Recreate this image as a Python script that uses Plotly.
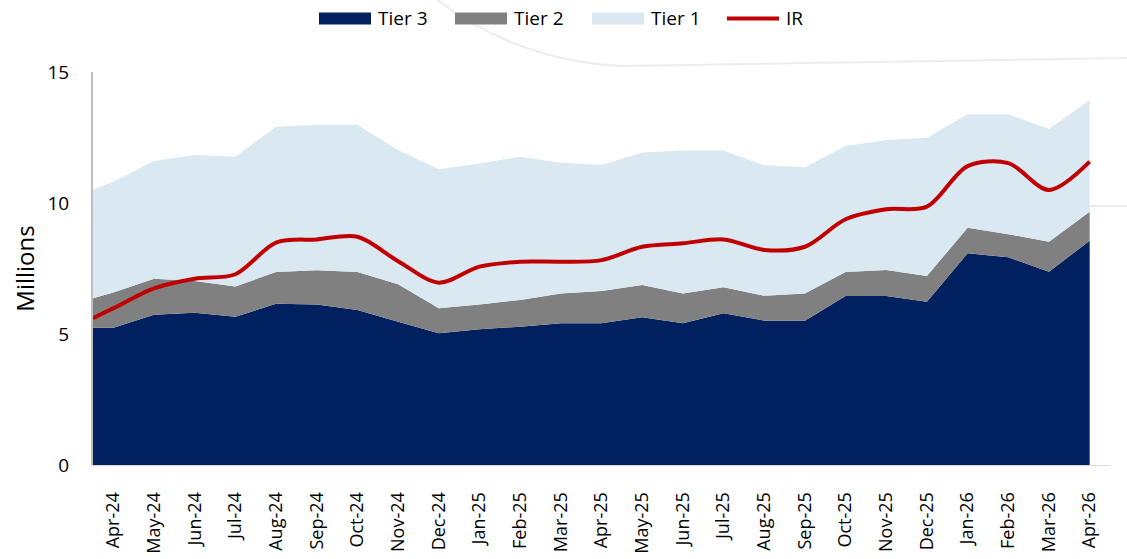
import plotly.graph_objects as go

# ---- data (millions) ----
months = ["Apr-24", "May-24", "Jun-24", "Jul-24", "Aug-24", "Sep-24", "Oct-24", "Nov-24",
          "Dec-24", "Jan-25", "Feb-25", "Mar-25", "Apr-25", "May-25", "Jun-25", "Jul-25",
          "Aug-25", "Sep-25", "Oct-25", "Nov-25", "Dec-25", "Jan-26", "Feb-26", "Mar-26", "Apr-26"]

# first value is the unlabelled opening point half a period before Apr-24
tier3 = [5.24, 5.24, 5.73, 5.81, 5.66, 6.15, 6.13, 5.92, 5.47, 5.03, 5.18, 5.28, 5.41,
         5.41, 5.64, 5.41, 5.79, 5.51, 5.51, 6.45, 6.45, 6.23, 8.08, 7.93, 7.38, 8.56]
tier2 = [1.12, 1.34, 1.38, 1.21, 1.15, 1.22, 1.30, 1.45, 1.43, 0.95, 0.95, 1.02, 1.14,
         1.23, 1.23, 1.14, 0.99, 0.95, 1.04, 0.92, 0.99, 0.98, 0.98, 0.88, 1.14, 1.11]
tier1 = [4.16, 4.23, 4.49, 4.81, 4.96, 5.54, 5.56, 5.62, 5.12, 5.31, 5.38, 5.47, 4.99,
         4.81, 5.06, 5.45, 5.22, 4.98, 4.81, 4.81, 4.96, 5.28, 4.33, 4.58, 4.30, 4.26]
ir = [5.60, 5.98, 6.74, 7.11, 7.28, 8.49, 8.61, 8.71, 7.78, 6.96, 7.57, 7.76, 7.76,
      7.82, 8.33, 8.46, 8.61, 8.21, 8.33, 9.38, 9.76, 9.86, 11.41, 11.52, 10.50, 11.58]

series_names = ["Tier 3", "Tier 2", "Tier 1", "IR"]

# category positions: opening point at -0.5, then one per month
xpos = [-0.5] + list(range(len(months)))

FONT = "'Open Sans', Lato, sans-serif"
NAVY, GREY, LIGHT, RED = "#002060", "#808080", "#DAE8F1", "#C00000"
colors = [NAVY, GREY, LIGHT, RED]

W, H = 1127, 559
L, T = 93, 72
pw, ph = 1017, 393
R, B = W - L - pw, H - T - ph
SX0, SY0 = L, T + ph   # plot-area left / bottom in page pixels


def px(xs):
    return (xs - SX0) / pw


def py(ys):
    return (SY0 - ys) / ph


fig = go.Figure()
for name, vals, col in zip(series_names[:3], [tier3, tier2, tier1], colors[:3]):
    fig.add_trace(go.Scatter(x=xpos, y=vals, name=name, mode="lines", stackgroup="one",
                             line=dict(width=0, color=col), fillcolor=col,
                             showlegend=False, hoverinfo="x+y"))
fig.add_trace(go.Scatter(x=xpos, y=ir, name=series_names[3], mode="lines", showlegend=False,
                         line=dict(color=RED, width=4, shape="spline", smoothing=0.9)))

# faint decorative background strokes
fig.add_shape(type="path", xref="paper", yref="paper", layer="below",
              path=f"M {px(437)} {py(0)} Q {px(520)} {py(62)} {px(624)} {py(66)} L {px(1127)} {py(58)}",
              line=dict(color="#EDEDED", width=2))
fig.add_shape(type="line", xref="paper", yref="paper", layer="below",
              x0=px(1088), x1=px(1127), y0=py(206), y1=py(206),
              line=dict(color="#EDEDED", width=2))

# legend drawn as keys + text
leg_y = 18.5
key_x = [319, 455, 592, 727]
for i, (name, col) in enumerate(zip(series_names, colors)):
    x0 = key_x[i]
    if name == "IR":
        fig.add_shape(type="line", xref="paper", yref="paper", x0=px(x0), x1=px(x0 + 52),
                      y0=py(leg_y), y1=py(leg_y), line=dict(color=col, width=4))
    else:
        fig.add_shape(type="rect", xref="paper", yref="paper", x0=px(x0), x1=px(x0 + 52),
                      y0=py(leg_y - 6), y1=py(leg_y + 6), line=dict(width=0), fillcolor=col)
    fig.add_annotation(text=name, xref="paper", yref="paper", x=px(x0 + 57), y=py(leg_y),
                       xanchor="left", yanchor="middle", showarrow=False,
                       font=dict(size=19, family=FONT, color="#000000"))

fig.update_layout(
    width=W, height=H,
    margin=dict(l=L, r=R, t=T, b=B),
    paper_bgcolor="white", plot_bgcolor="white",
    font=dict(family=FONT, color="#000000", size=16),
    showlegend=False,
    xaxis=dict(range=[-0.5, 24.5], tickmode="array", tickvals=list(range(len(months))),
               ticktext=months, tickangle=-90, showgrid=False, zeroline=False,
               showline=True, linecolor="#D9D9D9", linewidth=1, ticks="", automargin=False,
               ticklabelstandoff=19, tickfont=dict(size=18, family=FONT)),
    yaxis=dict(range=[0, 15], tickvals=[0, 5, 10, 15], showgrid=False, zeroline=False,
               showline=True, linecolor="#BFBFBF", linewidth=2, ticks="", automargin=False,
               ticklabelstandoff=18, tickfont=dict(size=19, family=FONT),
               title=dict(text="Millions", font=dict(size=24, family=FONT), standoff=6)),
)

# remove the browser's default 8px page margin so the figure sits at the page origin
fig.write_html("out.html", config={"displayModeBar": False},
               post_script="document.body.style.margin='0';")
